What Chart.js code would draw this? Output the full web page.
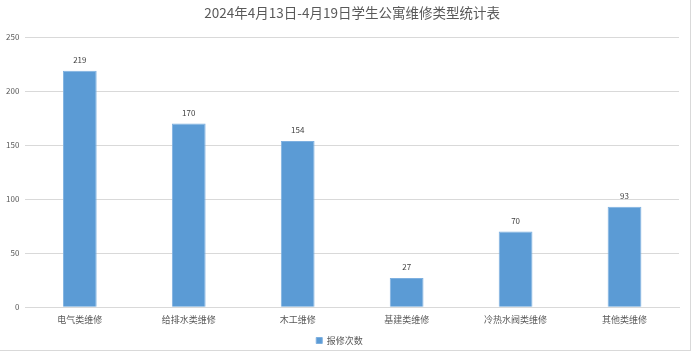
<!DOCTYPE html>
<html>
<head>
<meta charset="utf-8">
<script src="https://cdn.jsdelivr.net/npm/chart.js@4.4.1/dist/chart.umd.min.js"></script>
<style>
html,body{margin:0;padding:0;background:#fff;}
#wrap{position:absolute;left:0;top:0;width:690px;height:350px;border-right:1px solid #d9d9d9;border-bottom:1px solid #d9d9d9;background:#fff;overflow:hidden;}
canvas{display:block;}
</style>
</head>
<body>
<div id="wrap"><canvas id="c" width="690" height="356"></canvas></div>
<script>
const titleText = '2024年4月13日-4月19日学生公寓维修类型统计表';
const categories = ['电气类维修','给排水类维修','木工维修','基建类维修','冷热水阀类维修','其他类维修'];
const seriesName = '报修次数';
const repairCounts = [219, 170, 154, 27, 70, 93];
const yTicks = [0, 50, 100, 150, 200, 250];

const FONT = '"Noto Sans CJK SC", "Noto Sans", sans-serif';

const valueLabels = {
  id: 'valueLabels',
  afterDatasetsDraw(chart) {
    const ctx = chart.ctx;
    const meta = chart.getDatasetMeta(0);
    ctx.save();
    ctx.font = '8px ' + FONT;
    ctx.fillStyle = '#404040';
    ctx.textAlign = 'center';
    ctx.textBaseline = 'bottom';
    meta.data.forEach((bar, i) => {
      ctx.fillText(String(chart.data.datasets[0].data[i]), bar.x, bar.y - 7);
    });
    ctx.restore();
  }
};

new Chart(document.getElementById('c'), {
  type: 'bar',
  data: {
    labels: categories,
    datasets: [{
      label: seriesName,
      data: repairCounts,
      backgroundColor: '#5b9bd5',
      borderColor: '#7eb0e0',
      borderWidth: 1,
      barPercentage: 0.31,
      categoryPercentage: 1.0
    }]
  },
  options: {
    responsive: false,
    animation: false,
    layout: { padding: { left: 0, right: 11, top: 0, bottom: 1 } },
    plugins: {
      title: {
        display: true,
        fullSize: false,
        text: titleText,
        color: '#595959',
        font: { family: FONT, size: 13.5, weight: 'normal' },
        padding: { top: 5, bottom: 16 }
      },
      legend: {
        position: 'bottom',
        labels: {
          color: '#595959',
          font: { family: FONT, size: 9 },
          boxWidth: 6,
          boxHeight: 6,
          padding: 4
        }
      },
      tooltip: { enabled: false }
    },
    scales: {
      x: {
        grid: { display: false, drawTicks: false },
        border: { color: '#d9d9d9' },
        ticks: { color: '#595959', font: { family: FONT, size: 9 }, padding: 7, maxRotation: 0, autoSkip: false }
      },
      y: {
        min: yTicks[0],
        max: yTicks[yTicks.length - 1],
        afterBuildTicks(axis) { axis.ticks = yTicks.map(v => ({ value: v })); },
        grid: { color: '#d9d9d9', drawTicks: false },
        border: { display: false },
        ticks: { color: '#595959', font: { family: FONT, size: 8 }, padding: 6 }
      }
    }
  },
  plugins: [valueLabels]
});
</script>
</body>
</html>
